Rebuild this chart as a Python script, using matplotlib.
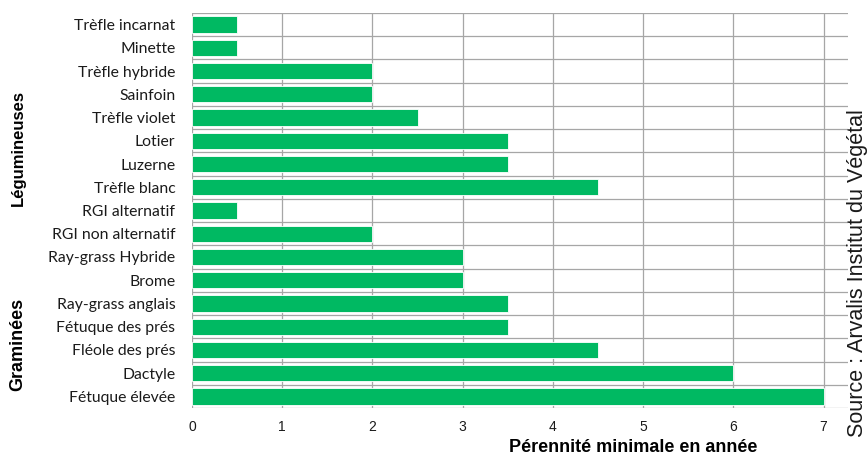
import matplotlib.pyplot as plt
import numpy as np

# espèces de haut en bas, pérennité minimale (années)
especes = ['Trèfle incarnat', 'Minette', 'Trèfle hybride', 'Sainfoin', 'Trèfle violet',
           'Lotier', 'Luzerne', 'Trèfle blanc', 'RGI alternatif', 'RGI non alternatif',
           'Ray-grass Hybride', 'Brome', 'Ray-grass anglais', 'Fétuque des prés',
           'Fléole des prés', 'Dactyle', 'Fétuque élevée']
perennite = [0.5, 0.5, 2, 2, 2.5, 3.5, 3.5, 4.5, 0.5, 2, 3, 3, 3.5, 3.5, 4.5, 6, 7]
x_ticks = [0, 1, 2, 3, 4, 5, 6, 7]

vert = '#00B962'
gris = '#A6A6A6'

fig = plt.figure(figsize=(8.67, 4.55), dpi=100)
ax = fig.add_axes([0.2215, 0.1033, 0.978 - 0.2215, 0.9714 - 0.1033])

n = len(especes)
y = np.arange(n)[::-1]
ax.barh(y, perennite, height=0.7, color=vert, edgecolor='white', linewidth=0.6, zorder=3)

ax.set_xlim(0, 7.27)
ax.set_ylim(-0.5, n - 0.5)

# grille façon Excel : verticales sur les entiers, horizontales entre catégories
for xv in x_ticks:
    ax.axvline(xv, color=gris, lw=0.9, zorder=1)
for yb in np.arange(n + 1) - 0.5:
    ax.axhline(yb, color=gris, lw=0.9, zorder=1)

ax.set_yticks(y)
ax.set_yticklabels(especes, fontsize=11.3, family=['Lato', 'DejaVu Sans'], color='#1a1a1a')
ax.set_xticks(x_ticks)
ax.set_xticklabels([str(v) for v in x_ticks], fontsize=10, family='Liberation Sans', color='#1a1a1a')
ax.tick_params(axis='both', length=0)
ax.tick_params(axis='y', pad=12)
ax.tick_params(axis='x', pad=9)
for s in ax.spines.values():
    s.set_visible(False)

fig.text(633 / 867, 1 - 447 / 455, 'Pérennité minimale en année', ha='center', va='center',
         fontsize=13, fontweight='bold', family='Liberation Sans')

fig.text(18 / 867, 1 - 148 / 455, 'Légumineuses', rotation=90, ha='center', va='center',
         fontsize=12, fontweight='bold', family='Liberation Sans')
fig.text(18 / 867, 1 - 344 / 455, 'Graminées', rotation=90, ha='center', va='center',
         fontsize=13, fontweight='bold', family='Liberation Sans')
fig.text(858 / 867, 1 - 273 / 455, 'Source : Arvalis Institut du Végétal', rotation=90,
         ha='center', va='center', fontsize=15.5, family='Liberation Sans', color='#1a1a1a')

fig.savefig('out.png', dpi=100)
